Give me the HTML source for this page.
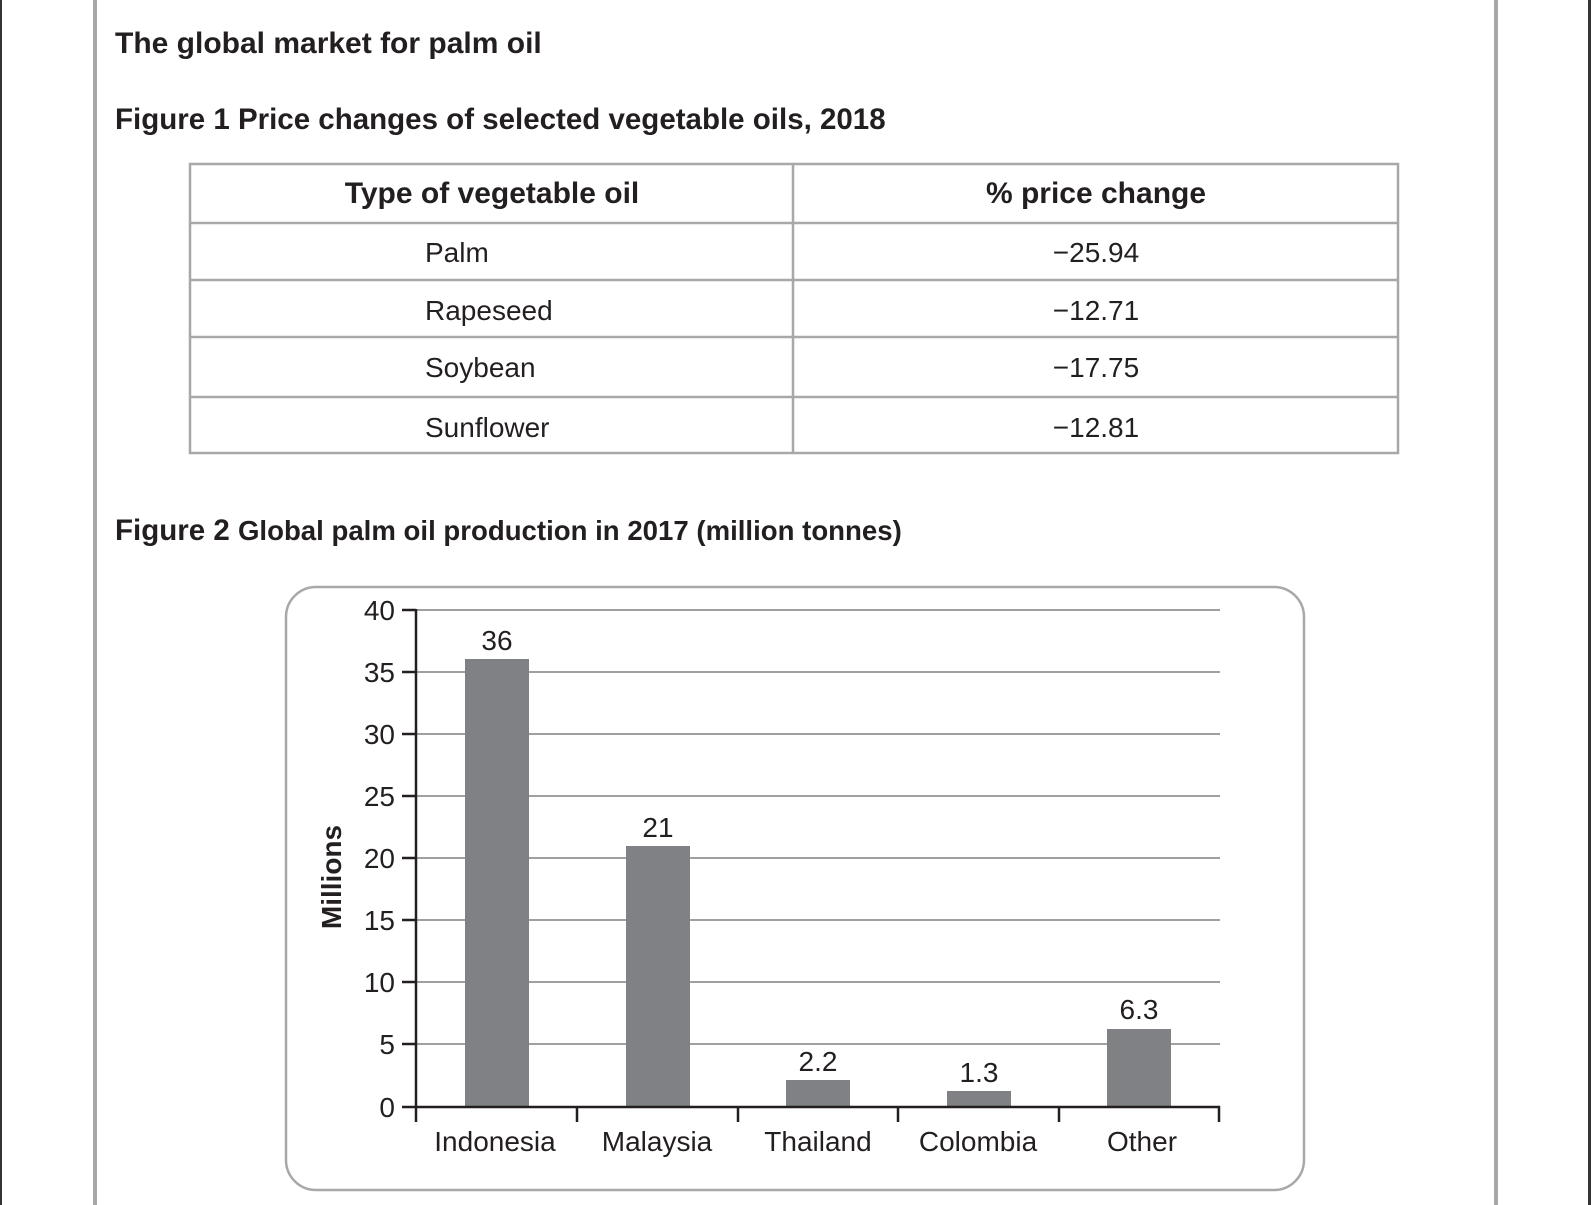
<!DOCTYPE html>
<html><head><meta charset="utf-8"><style>
html,body{margin:0;padding:0;background:#fff;width:1591px;height:1205px;overflow:hidden}
svg{display:block}
text{font-family:"Liberation Sans",sans-serif;fill:#231f20}
</style></head><body>
<svg width="1591" height="1205" viewBox="0 0 1591 1205">
<rect x="0" y="0" width="2" height="1205" fill="#333"/>
<rect x="1588" y="0" width="3" height="1205" fill="#333"/>
<rect x="93" y="0" width="4" height="1205" fill="#a7a8aa"/>
<rect x="1494" y="0" width="4" height="1205" fill="#a7a8aa"/>

<text x="115" y="53" font-size="30" font-weight="bold">The global market for palm oil</text>
<text x="115" y="129" font-size="29.5" font-weight="bold">Figure 1 Price changes of selected vegetable oils, 2018</text>

<g stroke="#a7a8aa" stroke-width="2.5" fill="none">
<rect x="190" y="164" width="1208" height="289"/>
<line x1="793" y1="164" x2="793" y2="453"/>
<line x1="190" y1="223" x2="1398" y2="223"/>
<line x1="190" y1="280" x2="1398" y2="280"/>
<line x1="190" y1="337" x2="1398" y2="337"/>
<line x1="190" y1="397" x2="1398" y2="397"/>
</g>
<text x="492" y="203" font-size="30" font-weight="bold" text-anchor="middle">Type of vegetable oil</text>
<text x="1096" y="203" font-size="30" font-weight="bold" text-anchor="middle">% price change</text>
<g font-size="28">
<text x="425" y="262">Palm</text>
<text x="425" y="320">Rapeseed</text>
<text x="425" y="377">Soybean</text>
<text x="425" y="437">Sunflower</text>
</g>
<g font-size="28" text-anchor="middle">
<text x="1096" y="262">−25.94</text>
<text x="1096" y="320">−12.71</text>
<text x="1096" y="377">−17.75</text>
<text x="1096" y="437">−12.81</text>
</g>

<text x="115" y="540" font-size="29.5" font-weight="bold">Figure 2 <tspan font-size="27.6">Global palm oil production in 2017 (million tonnes)</tspan></text>

<rect x="286" y="587" width="1018" height="603" rx="30" ry="30" fill="none" stroke="#a7a8aa" stroke-width="2.5"/>

<g stroke="#a0a0a0" stroke-width="2">
<line x1="416" y1="610" x2="1220" y2="610"/>
<line x1="416" y1="672" x2="1220" y2="672"/>
<line x1="416" y1="734" x2="1220" y2="734"/>
<line x1="416" y1="796" x2="1220" y2="796"/>
<line x1="416" y1="858" x2="1220" y2="858"/>
<line x1="416" y1="920" x2="1220" y2="920"/>
<line x1="416" y1="982" x2="1220" y2="982"/>
<line x1="416" y1="1044" x2="1220" y2="1044"/>
</g>
<g fill="#808184">
<rect x="465" y="659" width="64" height="448"/>
<rect x="626" y="846" width="64" height="261"/>
<rect x="786" y="1080" width="64" height="27"/>
<rect x="947" y="1091" width="64" height="16"/>
<rect x="1107" y="1029" width="64" height="78"/>
</g>
<g stroke="#231f20" stroke-width="2.5" fill="none">
<line x1="416" y1="609" x2="416" y2="1122"/>
<line x1="415" y1="1107" x2="1220" y2="1107"/>
<line x1="402" y1="610" x2="416" y2="610"/>
<line x1="402" y1="672" x2="416" y2="672"/>
<line x1="402" y1="734" x2="416" y2="734"/>
<line x1="402" y1="796" x2="416" y2="796"/>
<line x1="402" y1="858" x2="416" y2="858"/>
<line x1="402" y1="920" x2="416" y2="920"/>
<line x1="402" y1="982" x2="416" y2="982"/>
<line x1="402" y1="1044" x2="416" y2="1044"/>
<line x1="402" y1="1107" x2="416" y2="1107"/>
<line x1="577" y1="1107" x2="577" y2="1122"/>
<line x1="738" y1="1107" x2="738" y2="1122"/>
<line x1="898" y1="1107" x2="898" y2="1122"/>
<line x1="1059" y1="1107" x2="1059" y2="1122"/>
<line x1="1219" y1="1106" x2="1219" y2="1122"/>
</g>
<g font-size="28" text-anchor="end">
<text x="395" y="620">40</text>
<text x="395" y="682">35</text>
<text x="395" y="744">30</text>
<text x="395" y="806">25</text>
<text x="395" y="868">20</text>
<text x="395" y="930">15</text>
<text x="395" y="992">10</text>
<text x="395" y="1054">5</text>
<text x="395" y="1117">0</text>
</g>
<text transform="translate(341,877) rotate(-90)" font-size="28" font-weight="bold" text-anchor="middle">Millions</text>
<g font-size="28" text-anchor="middle">
<text x="497" y="650">36</text>
<text x="658" y="837">21</text>
<text x="818" y="1071">2.2</text>
<text x="979" y="1082">1.3</text>
<text x="1139" y="1019">6.3</text>
<text x="495" y="1151">Indonesia</text>
<text x="657" y="1151">Malaysia</text>
<text x="818" y="1151">Thailand</text>
<text x="978" y="1151">Colombia</text>
<text x="1142" y="1151">Other</text>
</g>
</svg>
</body></html>
